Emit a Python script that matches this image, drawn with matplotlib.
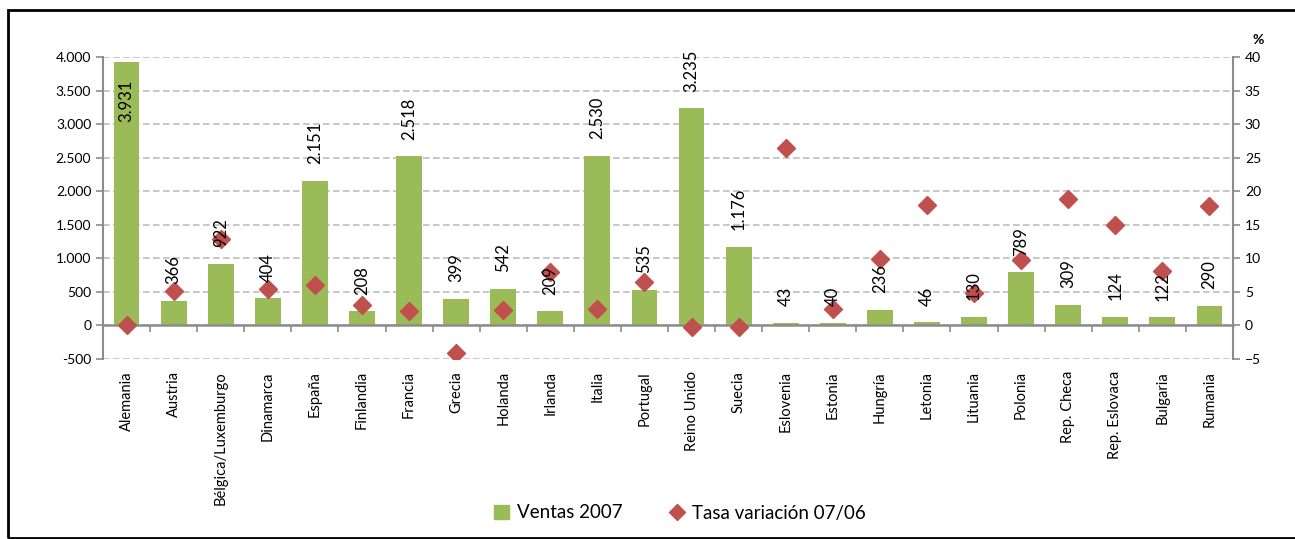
import matplotlib.pyplot as plt
from matplotlib.patches import Patch, Rectangle
from matplotlib.lines import Line2D
from matplotlib.ticker import FuncFormatter, FixedLocator
import matplotlib.transforms as mtransforms

plt.rcParams['font.family'] = ['Lato', 'DejaVu Sans']

# Data
paises = ['Alemania', 'Austria', 'Bélgica/Luxemburgo', 'Dinamarca', 'España', 'Finlandia',
          'Francia', 'Grecia', 'Holanda', 'Irlanda', 'Italia', 'Portugal', 'Reino Unido',
          'Suecia', 'Eslovenia', 'Estonia', 'Hungría', 'Letonia', 'Lituania', 'Polonia',
          'Rep. Checa', 'Rep. Eslovaca', 'Bulgaria', 'Rumania']
ventas_2007 = [3931, 366, 922, 404, 2151, 208, 2518, 399, 542, 209, 2530, 535, 3235,
               1176, 43, 40, 236, 46, 130, 789, 309, 124, 122, 290]
tasa_variacion = [0.0, 5.2, 12.9, 5.5, 6.1, 3.0, 2.2, -4.1, 2.3, 8.0, 2.4, 6.4, -0.3,
                  -0.2, 26.5, 2.5, 9.9, 17.9, 4.9, 9.8, 18.9, 14.9, 8.1, 17.8]

green = '#9BBB59'
red = '#C0504D'
gray = '#8C8C8C'

W, H = 1295, 539
fig = plt.figure(figsize=(W / 100, H / 100), dpi=100)
ax = fig.add_axes([103 / W, 1 - 359 / H, (1233 - 103) / W, (359 - 57) / H])
ax2 = ax.twinx()

x = list(range(len(paises)))
ax.bar(x, ventas_2007, width=0.55, color=green, zorder=2)
ax.set_xlim(-0.5, len(paises) - 0.5)
ax.set_ylim(-500, 4000)
ax.set_yticks(range(-500, 4001, 500))
ax.yaxis.set_major_formatter(FuncFormatter(lambda v, p: f'{int(v):,}'.replace(',', '.')))
ax.grid(axis='y', color='#BFBFBF', linestyle=(0, (4, 2)), linewidth=1.2, zorder=0)
ax.set_axisbelow(True)

ax2.plot(x, tasa_variacion, linestyle='none', marker='D', markersize=9.5,
         color=red, zorder=3)
ax2.set_ylim(-5, 40)
ax2.set_yticks(range(-5, 41, 5))

# spines
for a in (ax, ax2):
    a.spines['top'].set_visible(False)
    a.spines['bottom'].set_visible(False)
ax.spines['right'].set_visible(False)
ax2.spines['left'].set_visible(False)
ax.spines['left'].set_color(gray)
ax.spines['left'].set_linewidth(1.5)
ax2.spines['right'].set_color(gray)
ax2.spines['right'].set_linewidth(1.5)
ax.tick_params(axis='y', colors=gray, labelcolor='black', labelsize=10, length=5, width=1.2)
ax2.tick_params(axis='y', colors=gray, labelcolor='black', labelsize=10, length=5, width=1.2)

# category axis at zero with ticks at boundaries
ax.spines['bottom'].set_visible(True)
ax.spines['bottom'].set_position(('data', 0))
ax.spines['bottom'].set_color(gray)
ax.spines['bottom'].set_linewidth(1.8)
ax.xaxis.set_major_locator(FixedLocator([i - 0.5 for i in range(len(paises) + 1)]))
ax.tick_params(axis='x', colors=gray, length=5, width=1.2, labelbottom=False)

trans = mtransforms.blended_transform_factory(ax.transData, ax.transAxes)
for i, name in enumerate(paises):
    ax.text(i, -0.04, name, rotation=90, ha='center', va='top', fontsize=10.5,
            transform=trans)

# data labels (drawn on ax2 so they sit above the diamonds)
for i, v in enumerate(ventas_2007):
    txt = f'{v:,}'.replace(',', '.')
    if v > 3500:
        ax2.annotate(txt, (i, v), xycoords=ax.transData, xytext=(0, -13),
                     textcoords='offset points', rotation=90, ha='center', va='top',
                     fontsize=12, zorder=4)
    else:
        ax2.annotate(txt, (i, v), xycoords=ax.transData, xytext=(0, 12),
                     textcoords='offset points', rotation=90, ha='center', va='bottom',
                     fontsize=12, zorder=4)

fig.text(1258 / W, 1 - 40 / H, '%', ha='center', va='center', fontsize=10,
         fontweight='bold')

handles = [Patch(facecolor=green, edgecolor=green),
           Line2D([], [], linestyle='none', marker='D', markersize=8, color=red)]
fig.legend(handles, ['Ventas 2007', 'Tasa variación 07/06'], loc='center',
           bbox_to_anchor=(680 / W, 1 - 513 / H), ncol=2, frameon=False,
           fontsize=13.5, handlelength=0.8, handleheight=0.8, handletextpad=0.4,
           columnspacing=2.5)

fig.patches.append(Rectangle((8 / W, 1.5 / H), 1.2, 1 - 11.5 / H, transform=fig.transFigure,
                             fill=False, edgecolor='black', linewidth=2))

fig.savefig('out.png', dpi=100)
